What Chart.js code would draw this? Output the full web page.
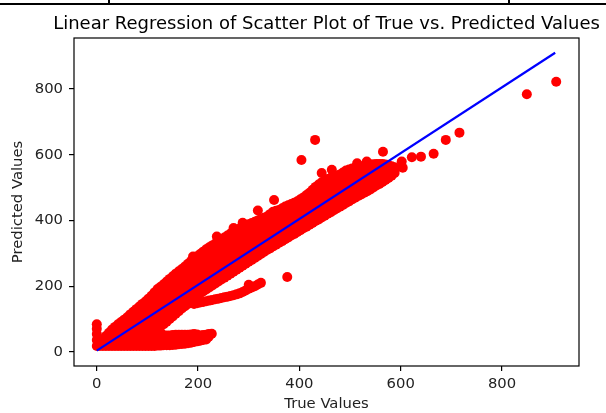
<!DOCTYPE html>
<html><head><meta charset="utf-8">
<script src="https://cdn.jsdelivr.net/npm/chart.js@4.4.0/dist/chart.umd.min.js"></script>
<style>
html,body{margin:0;padding:0;background:#fff;}
#wrap{position:relative;width:606px;height:413px;overflow:hidden;background:#fff;}
#c{position:absolute;left:0;top:0;}
.hl{position:absolute;left:0;top:3px;width:606px;height:2px;background:#000;}
.vl{position:absolute;top:0;width:2px;height:4px;background:#000;}
</style></head><body>
<div id="wrap"><canvas id="c" width="606" height="413"></canvas>
<div class="hl"></div><div class="vl" style="left:108px"></div><div class="vl" style="left:508px"></div></div>
<script>
const titleText = 'Linear Regression of Scatter Plot of True vs. Predicted Values';
const xAxisLabel = 'True Values';
const yAxisLabel = 'Predicted Values';
const xTicks = [0, 200, 400, 600, 800];
const yTicks = [0, 200, 400, 600, 800];

// regression line (true -> predicted)
const lineTrue = [0, 905];
const linePred = [4, 910];

// dense points near the origin: [true, [predicted...]]
const fanCols = [
  [0, [18, 36, 54, 70, 84]],
  [6, [18, 30]],
  [12, [18, 38]],
  [18, [18, 48]],
  [24, [18, 38, 58]],
  [30, [18, 68]],
  [36, [18, 38, 58, 76]],
  [42, [18, 84]],
  [48, [18, 38, 58, 76, 91]],
  [54, [18, 98]],
  [60, [18, 38, 58, 78, 96, 105]],
  [66, [18, 114]],
  [72, [18, 38, 58, 78, 100, 122]],
  [78, [18, 130]],
  [84, [18, 38, 58, 78, 98, 118, 138]],
  [90, [18, 146]],
  [96, [18, 38, 58, 78, 98, 118, 136, 153]],
  [102, [18, 162]],
  [108, [18, 38, 58, 78, 98, 118, 136, 154, 171]],
  [114, [18, 181]],
  [120, [19, 39, 59, 79, 99, 119, 139, 158, 176, 191]],
  [126, [19, 39, 59, 79, 99, 119, 139, 159, 179, 198]]
];

// low streak under the main band
const lowStreak = [
  [132, [20, 36, 50]], [138, [20, 50]], [144, [20, 36, 50]], [150, [21, 51]],
  [156, [22, 38, 52]], [162, [23, 52]], [168, [24, 40, 52]], [174, [25, 52]],
  [180, [26, 40, 52]], [186, [28, 53]], [192, [30, 46, 54]], [198, [32, 53]],
  [204, [34, 50]], [210, [36, 51]], [216, [38, 52]], [221, [46, 54]], [227, [55]]
];

// second streak below the main band
const midStreak = [
  [192, 146], [198, 148], [204, 150], [210, 152], [216, 154], [222, 156], [228, 158],
  [234, 160], [240, 162], [246, 164], [252, 166], [258, 168], [264, 170], [270, 172],
  [276, 175], [282, 178], [288, 182], [294, 187], [300, 192], [306, 196], [312, 200],
  [318, 205], [300, 204], [324, 210], [376, 228]
];

// main band columns
const bandColsA = [
  [132, [84, 104, 124, 144, 164, 184, 206]],
  [138, [92, 214]],
  [144, [100, 120, 140, 160, 180, 200, 222]],
  [150, [108, 230]],
  [156, [116, 136, 156, 176, 196, 216, 238]],
  [162, [124, 245]],
  [168, [132, 152, 172, 192, 212, 232, 252]],
  [174, [139, 260]],
  [180, [146, 166, 186, 206, 226, 246, 268]],
  [186, [155, 276]],
  [192, [164, 184, 204, 224, 244, 264, 284]],
  [198, [171, 291]],
  [204, [178, 198, 218, 238, 258, 278, 298]],
  [210, [184, 305]],
  [216, [190, 210, 230, 250, 270, 292, 312]],
  [222, [196, 318]],
  [228, [202, 222, 242, 262, 282, 303, 324]],
  [234, [208, 330]],
  [240, [214, 234, 254, 274, 295, 316, 336]],
  [246, [220, 342]],
  [252, [226, 246, 266, 286, 307, 328, 348]],
  [258, [232, 354]],
  [264, [238, 258, 278, 299, 320, 340, 360]],
  [270, [244, 365]],
  [276, [250, 270, 290, 310, 330, 350, 370]],
  [282, [256, 375]],
  [288, [262, 282, 302, 322, 342, 362, 380]],
  [294, [268, 384]],
  [300, [274, 294, 314, 334, 354, 372, 388]]
];
const bandColsB = [
  [306, [280, 392]],
  [312, [286, 306, 326, 346, 366, 382, 396]],
  [318, [292, 400]],
  [324, [298, 318, 338, 358, 378, 394, 404]],
  [330, [304, 408]],
  [336, [310, 330, 350, 370, 390, 412]],
  [342, [315, 419]],
  [348, [321, 342, 363, 384, 405, 426]],
  [354, [326, 429]],
  [360, [332, 352, 372, 392, 412, 432]],
  [366, [337, 437]],
  [372, [343, 363, 383, 403, 423, 442]],
  [378, [348, 446]],
  [384, [354, 374, 394, 414, 434, 450]],
  [390, [359, 454]],
  [396, [365, 384, 403, 422, 441, 458]],
  [402, [370, 464]],
  [408, [376, 395, 414, 433, 452, 470]],
  [414, [381, 477]],
  [420, [387, 406, 425, 445, 465, 484]],
  [426, [392, 493]],
  [432, [398, 419, 440, 461, 482, 502]],
  [438, [403, 509]],
  [444, [409, 430, 451, 472, 494, 516]],
  [450, [414, 521]]
];
const bandColsC = [
  [456, [420, 441, 462, 483, 505, 526]],
  [462, [425, 530]],
  [468, [431, 452, 473, 494, 514, 534]],
  [474, [436, 537]],
  [480, [442, 462, 482, 502, 522, 540]],
  [486, [447, 546]],
  [492, [453, 473, 493, 513, 533, 552]],
  [498, [458, 555]],
  [504, [464, 483, 502, 521, 540, 558]],
  [510, [469, 560]],
  [516, [474, 492, 510, 528, 546, 562]],
  [522, [479, 564]],
  [528, [484, 501, 518, 535, 552, 566]],
  [534, [489, 568]],
  [540, [494, 510, 526, 542, 558, 570]],
  [546, [500, 571]],
  [552, [506, 520, 534, 548, 562, 572]],
  [558, [511, 572]],
  [564, [517, 531, 545, 559, 572]],
  [570, [523, 570]],
  [576, [529, 542, 555, 568]],
  [582, [536, 565]],
  [588, [544, 556, 562]]
];

// isolated points
const outliers = [
  [190, 290], [237, 351], [270, 377], [288, 393], [318, 430], [350, 462], [404, 584],
  [431, 645], [444, 544], [464, 554], [514, 574], [533, 579], [565, 609], [602, 579],
  [604, 560], [622, 592], [640, 594], [665, 603], [689, 645], [716, 667], [849, 784], [907, 822]
];

const pts = [];
[fanCols, lowStreak, bandColsA, bandColsB, bandColsC].forEach(cols =>
  cols.forEach(([x, ys]) => ys.forEach(y => pts.push({x: x, y: y}))));
midStreak.concat(outliers).forEach(([x, y]) => pts.push({x: x, y: y}));
const linePts = lineTrue.map((x, i) => ({x: x, y: linePred[i]}));

const FONT = 'DejaVu Sans';
const framePlugin = {
  id: 'frame',
  afterDraw(chart) {
    const {ctx, chartArea: a} = chart;
    ctx.save();
    ctx.strokeStyle = '#000';
    ctx.lineWidth = 1.2;
    ctx.strokeRect(a.left, a.top, a.right - a.left, a.bottom - a.top);
    ctx.restore();
  }
};
const titlePos = {
  id: 'titlePos',
  afterLayout(chart) {
    const t = chart.titleBlock, a = chart.chartArea;
    if (t) { const c = (a.left + a.right) / 2; t.left = c - 300; t.right = c + 300; }
  }
};

new Chart(document.getElementById('c'), {
  type: 'scatter',
  data: {
    datasets: [
      {type: 'line', data: linePts, borderColor: '#0000ff', borderWidth: 2.2, pointRadius: 0,
       fill: false, tension: 0, order: 0},
      {type: 'scatter', data: pts, backgroundColor: '#ff0000', borderWidth: 0, pointRadius: 5,
       order: 1}
    ]
  },
  options: {
    responsive: false, animation: false, events: [], devicePixelRatio: 1,
    layout: {padding: {left: 0, right: 27, top: 0, bottom: 0}},
    plugins: {
      legend: {display: false}, tooltip: {enabled: false},
      title: {display: true, text: titleText, color: '#000',
              font: {family: FONT, size: 18, weight: 'normal'}, padding: {top: 14, bottom: 2.4}}
    },
    scales: {
      x: {
        type: 'linear', min: -45, max: 952,
        afterBuildTicks: s => { s.ticks = xTicks.map(v => ({value: v})); },
        afterFit: s => { s.height = 47; },
        ticks: {color: '#222', font: {family: FONT, size: 14.8}, padding: 4, maxRotation: 0,
                autoSkip: false, callback: v => String(v)},
        grid: {display: true, drawOnChartArea: false, drawTicks: true, tickLength: 5,
               color: '#000', lineWidth: 1.2},
        border: {display: false},
        title: {display: true, text: xAxisLabel, color: '#222',
                font: {family: FONT, size: 14.8}, padding: {top: 0, bottom: 0}}
      },
      y: {
        type: 'linear', min: -43, max: 955,
        afterBuildTicks: s => { s.ticks = yTicks.map(v => ({value: v})); },
        afterFit: s => { s.width = 74; },
        ticks: {color: '#222', font: {family: FONT, size: 14.8}, padding: 6,
                autoSkip: false, callback: v => String(v)},
        grid: {display: true, drawOnChartArea: false, drawTicks: true, tickLength: 5,
               color: '#000', lineWidth: 1.2},
        border: {display: false},
        title: {display: true, text: yAxisLabel, color: '#222',
                font: {family: FONT, size: 14.8}, padding: {top: 9.6, bottom: 0}}
      }
    }
  },
  plugins: [framePlugin, titlePos]
});
</script>
</body></html>
